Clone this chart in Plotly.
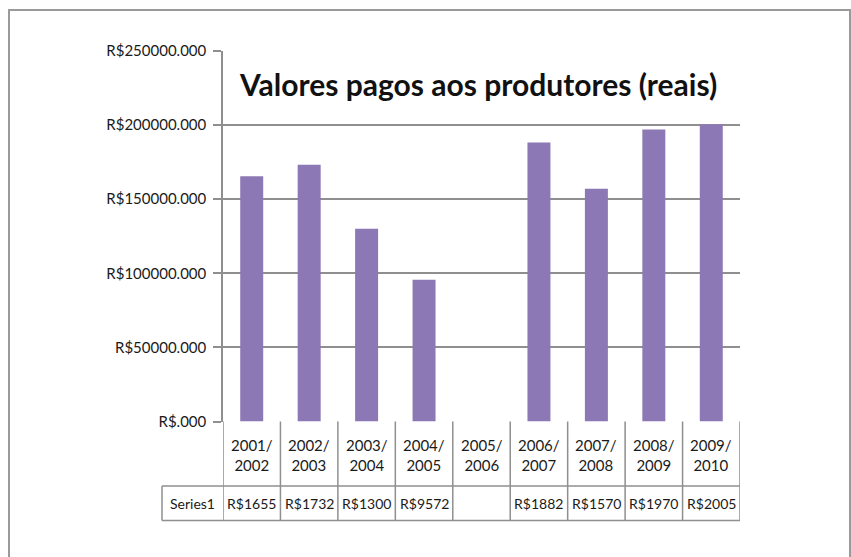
import plotly.graph_objects as go

categories = ["2001/2002", "2002/2003", "2003/2004", "2004/2005", "2005/2006",
              "2006/2007", "2007/2008", "2008/2009", "2009/2010"]
values = [165500, 173200, 130000, 95720, None, 188200, 157000, 197000, 200500]
y_ticks = [0, 50000, 100000, 150000, 200000, 250000]
series_name = "Series1"
title_text = "Valores pagos aos produtores (reais)"

W, H = 851, 557
FONT = "Lato"
GRID = "#8f8f8f"
TXT = "#1a1a1a"

def px_x(p):
    return p / W

def px_y(p):
    return (H - p) / H

x_left, x_right = 223, 740
y_top, y_zero = 51, 421.5
row1_bot, row2_bot, label_left = 486, 520.5, 162

def tick_label(v):
    return "R$" + (str(int(v)) if v else "") + ".000"

def cell_label(v):
    if v is None:
        return ""
    return ("R$%.3f" % v)[:6]

fig = go.Figure()
fig.add_trace(go.Bar(
    x=list(range(len(categories))), y=values, width=0.4,
    marker=dict(color="#8c78b4", line=dict(width=0)),
    name=series_name, showlegend=False,
))

shapes = []
annotations = []
shapes.append(dict(type="rect", xref="paper", yref="paper",
                   x0=px_x(9), x1=px_x(850), y0=px_y(560), y1=px_y(10),
                   line=dict(color="#9a9a9a", width=2)))
n = len(categories)
for i in range(n + 1):
    shapes.append(dict(type="line", xref="x", yref="paper",
                       x0=i - 0.5, x1=i - 0.5, y0=px_y(row2_bot), y1=px_y(y_zero),
                       line=dict(color=GRID, width=1.5)))
for yy in (row1_bot, row2_bot):
    shapes.append(dict(type="line", xref="paper", yref="paper",
                       x0=px_x(label_left), x1=px_x(x_right), y0=px_y(yy), y1=px_y(yy),
                       line=dict(color=GRID, width=1.5)))
shapes.append(dict(type="line", xref="paper", yref="paper",
                   x0=px_x(label_left), x1=px_x(label_left), y0=px_y(row2_bot), y1=px_y(row1_bot),
                   line=dict(color=GRID, width=1.5)))

def ann(x, y, text, size, xref="x", color=TXT):
    return dict(x=x, y=y, xref=xref, yref="paper", text=text, showarrow=False,
                xanchor="center", yanchor="middle",
                font=dict(family=FONT, size=size, color=color))

for i, c in enumerate(categories):
    a, b = c.split("/")
    annotations.append(ann(i, px_y((y_zero + row1_bot) / 2 + 1), a + "/<br>" + b, 15))
    annotations.append(ann(i, px_y((row1_bot + row2_bot) / 2), cell_label(values[i]), 14))
annotations.append(ann(px_x((label_left + x_left) / 2), px_y((row1_bot + row2_bot) / 2),
                       series_name, 14, xref="paper"))
annotations.append(ann(px_x(478), px_y(84), "<b>" + title_text + "</b>", 30,
                       xref="paper", color="#111111"))

fig.update_layout(
    width=W, height=H, margin=dict(l=0, r=0, t=0, b=0, pad=0),
    paper_bgcolor="white", plot_bgcolor="white",
    shapes=shapes, annotations=annotations,
    xaxis=dict(domain=[px_x(x_left), px_x(x_right)], range=[-0.5, n - 0.5],
               showticklabels=False, ticks="", showgrid=False, zeroline=False,
               showline=False, fixedrange=True, automargin=False),
    yaxis=dict(domain=[px_y(y_zero), px_y(y_top)], range=[0, 250000],
               tickvals=y_ticks, ticktext=[tick_label(v) for v in y_ticks],
               ticks="outside", ticklen=8, tickcolor=GRID, tickwidth=1.5,
               showgrid=True, gridcolor=GRID, gridwidth=1.5,
               showline=True, linecolor=GRID, linewidth=1.5, zeroline=False,
               automargin=False,
               tickfont=dict(family=FONT, size=15, color=TXT), ticklabelstandoff=4),
)
fig.write_html("out.html")
